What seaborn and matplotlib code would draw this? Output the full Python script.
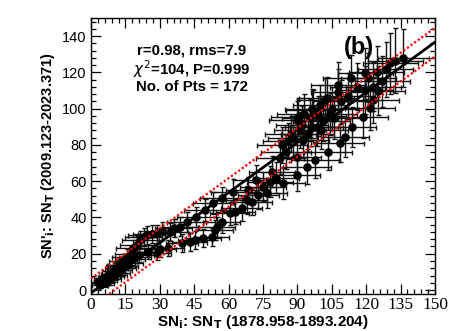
import numpy as np
import matplotlib
matplotlib.use("Agg")
import matplotlib.pyplot as plt
import seaborn as sns
from matplotlib.ticker import MultipleLocator

# SN_i : SN_T, cycle segment 1878.958-1893.204 (x) vs 2009.123-2023.371 (y)
sn_early = [3, 4, 5, 5.5, 6, 7, 7.5, 8, 8.5, 9, 9.5, 10, 10.5, 11, 11.5, 12, 12.5, 13, 13.5, 14, 14.5, 15.5, 16, 17, 17.5, 19,
            18.5, 20, 21, 21.5, 23, 24.3, 25, 26.5, 28.6, 28.6, 30, 31, 33.7, 34.4, 36, 38.8, 39.5, 41.7, 43, 45.4, 46,
            49, 49.7, 52.6, 53.3, 54, 55, 57, 57, 60.6, 62, 62.8, 65.7, 67.9, 68.5, 70, 72, 73, 75.1, 76.6, 78, 78.8, 80.5,
            82.4, 83.2, 83.9, 85, 86, 87, 88, 89.7, 89.7, 89.7, 90.3, 91.1, 92, 92.6, 93, 94.3, 94.5, 95.5, 96, 96.5,
            97, 97.7, 98.4, 99, 100, 100.5,
            101, 102, 102.8, 103.4, 104, 105, 106, 107.9, 107.9, 108.6, 109, 110.8, 112, 113.2, 113.7, 116, 118.6, 119.5,
            119.5, 121, 121.7, 123, 123, 124.6, 125, 127, 128.6, 130.4, 132.6, 136.2]
sn_late = [4.5, 3, 5, 6.5, 4, 7.4, 5.5, 8, 6, 9, 7.5, 10.5, 8.5, 12, 9.5, 13, 11, 14, 12, 16, 13.5, 18.4, 15, 17, 20, 18,
           23, 25, 19.5, 27.6, 29, 30.3, 21, 31, 31, 20.5, 22.5, 32.5, 23, 32, 34, 35, 25.7, 37.7, 26.5, 27.6, 40.4,
           28.5, 44, 29, 47.8, 33, 35, 37.7, 50.5, 42.3, 54.2, 43.2, 45, 49.6, 55, 48.7, 60.7, 52.4, 57, 53.3, 59.7, 65.2, 62,
           72.8, 80, 58.8, 76, 82, 86, 84, 63.4, 73.5, 93.7, 95.5, 88.2, 91, 82.7, 97, 68, 86, 94.8, 90, 100,
           99.2, 71.7, 90, 96, 102, 88,
           93, 104.7, 105.7, 76.3, 97, 100, 95, 109.3, 113, 81, 104, 84.5, 107, 116.7, 90, 112, 95.5, 110.3,
           119.5, 117, 100.3, 104.7, 112, 120.3, 110, 115, 121.7, 125, 126.4, 127.7]
err_early = [3.5, 3.5, 3.5, 4, 4, 4, 4, 4.5, 4.5, 4.5, 5, 5, 5, 5, 5.5, 5.5, 5.5, 6, 6, 6, 6, 6.5, 6.5, 6.5, 7, 7,
             7.5, 7.5, 6.5, 8, 8, 8, 6.5, 8, 8, 6.5, 7, 8, 7, 8, 8, 8, 7, 8.5, 7.5, 7.5, 8.5,
             7.5, 9, 7.5, 9, 8, 8, 8, 9.5, 8.5, 9.5, 8.5, 9, 9, 9.5, 9, 10, 9, 10, 9, 10, 10, 10,
             10.5, 11, 9.5, 11, 11, 11, 11, 10, 10.5, 12, 12, 11.5, 11.5, 11, 12, 10.5, 11.5, 12, 11.5, 12,
             12, 10.5, 11.5, 12, 12, 11.5,
             12, 12, 12, 10.5, 12, 12, 12, 12, 12, 10.5, 12, 10.5, 12, 12, 10.5, 12, 11, 12,
             12, 12, 11, 11.5, 12, 12, 12, 12, 12, 12, 12, 11]
err_late = [2, 2, 2, 2.5, 2.5, 2.5, 2.5, 3, 3, 3, 3, 3, 3, 3.5, 3.5, 3.5, 3.5, 4, 4, 4, 4, 4, 4, 4.5, 4.5, 4.5,
            4.5, 5, 4, 5, 5, 5, 4, 5, 5, 4, 4.5, 5, 4.5, 5, 5, 5, 5, 5.5, 5, 5, 5.5,
            5, 6, 5, 6, 5.5, 5.5, 6, 6.5, 6.5, 7, 7, 7, 7.5, 7.5, 7.5, 8, 7.5, 8, 8, 8.5, 8.5, 8.5,
            9, 10, 8.5, 9.5, 10, 10, 10, 9, 9.5, 10.5, 10.5, 10, 10.5, 10, 11, 9.5, 10, 10.5, 10.5, 11,
            11, 10, 10.5, 11, 11, 10.5,
            11, 12, 12, 10, 11.5, 12, 11.5, 12.5, 13, 10.5, 12, 11, 12.5, 13, 11, 13, 11.5, 13,
            14, 13.5, 12, 12.5, 13.5, 14, 13.5, 14, 15, 17, 18, 16]

# linear fit and rms band
fit_intercept = -1.6
fit_slope = 0.922
fit_rms = 7.9

sns.set_style("ticks")
plt.rcParams['font.family'] = ['Liberation Sans', 'DejaVu Sans']
plt.rcParams['text.color'] = 'black'
plt.rcParams['axes.labelcolor'] = 'black'
plt.rcParams['xtick.color'] = 'black'
plt.rcParams['ytick.color'] = 'black'

fig = plt.figure(figsize=(4.63, 3.31), dpi=100)
ax = fig.add_axes([91 / 463, 1 - 294 / 331, 344 / 463, 276 / 331])

ax.errorbar(sn_early, sn_late, xerr=err_early, yerr=err_late, fmt='none',
            ecolor='#111111', elinewidth=1.0, capsize=1.8, capthick=1.0, zorder=2)
sns.scatterplot(x=sn_early, y=sn_late, color='black', s=38, edgecolor='black',
                linewidth=0, ax=ax, zorder=3)

ax.axline((0, fit_intercept), slope=fit_slope, color='black', lw=2, zorder=4)
ax.axline((0, fit_intercept + fit_rms), slope=fit_slope, color='red',
          lw=1.6, ls=(0, (1, 1)), zorder=5)
ax.axline((0, fit_intercept - fit_rms), slope=fit_slope, color='red',
          lw=1.6, ls=(0, (1, 1)), zorder=5)

ax.set_xlim(0, 150)
ax.set_ylim(-2.2, 150)
ax.xaxis.set_major_locator(MultipleLocator(15))
ax.xaxis.set_minor_locator(MultipleLocator(3))
ax.yaxis.set_major_locator(MultipleLocator(20))
ax.yaxis.set_minor_locator(MultipleLocator(4))
ax.tick_params(which='both', direction='in', top=True, right=True, width=0.9, color='black')
ax.tick_params(which='major', length=7)
ax.tick_params(which='minor', length=3.5)
ax.tick_params(axis='y', labelsize=10.5, pad=3)
ax.tick_params(axis='x', labelsize=12.5, pad=2, labelfontfamily='Liberation Serif')
for sp in ax.spines.values():
    sp.set_linewidth(1)
    sp.set_color('black')

ax.set_xlabel(r"SN$_\mathbf{i}$: SN$_\mathbf{T}$ (1878.958-1893.204)",
              fontsize=11, fontweight='bold', labelpad=0)
ax.set_ylabel(r"SN'$_\mathbf{i}$: SN$_\mathbf{T}$ (2009.123-2023.371)",
              fontsize=10.5, fontweight='bold', labelpad=4)

ax.text(44, 132, "r=0.98, rms=7.9", ha='center', va='center', fontsize=10.8, fontweight='bold')
ax.text(44, 122, r"$\chi^2$=104, P=0.999", ha='center', va='center', fontsize=10.8, fontweight='bold')
ax.text(44, 112, "No. of Pts = 172", ha='center', va='center', fontsize=10.8, fontweight='bold')
ax.text(117, 134, "(b)", ha='center', va='center', fontsize=17, fontweight='bold')

fig.savefig("out.png", dpi=100)
